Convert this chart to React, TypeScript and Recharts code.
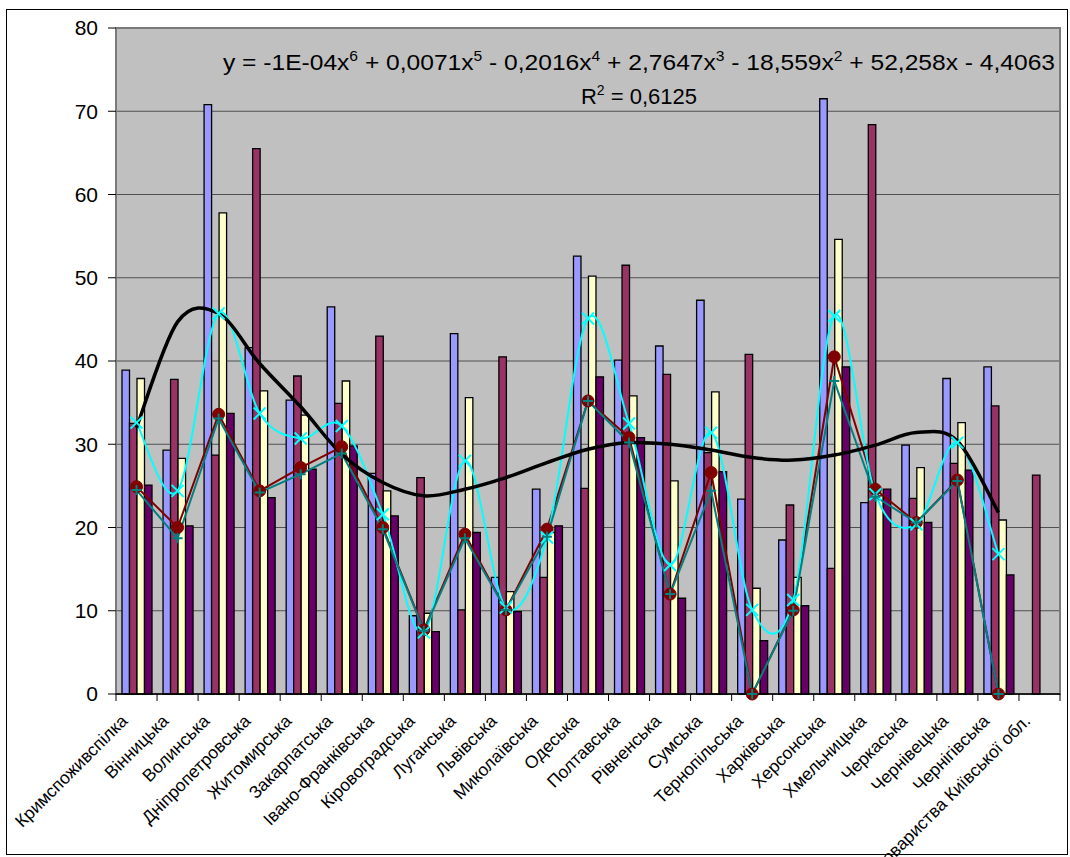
import { Bar, CartesianGrid, ComposedChart, Line, ReferenceArea, XAxis, YAxis } from 'recharts';

// regions of the consumer cooperation (category axis)
const categories = [
    'Кримспоживспілка', 'Вінницька', 'Волинська', 'Дніпропетровська', 'Житомирська', 'Закарпатська',
    'Івано-Франківська', 'Кіровоградська', 'Луганська', 'Львівська', 'Миколаївська', 'Одеська',
    'Полтавська', 'Рівненська', 'Сумська', 'Тернопільська', 'Харківська', 'Херсонська',
    'Хмельницька', 'Черкаська', 'Чернівецька', 'Чернігівська', 'Споживчі товариства Київської обл.',
];

// bar series
const lavender = [38.9, 29.3, 70.8, 41.6, 35.3, 46.5, 26.5, 9.4, 43.3, 14.0, 24.6, 52.6, 40.1, 41.8, 47.3, 23.4, 18.5, 71.5, 23.0, 29.9, 37.9, 39.3, null];
const maroon = [32.5, 37.8, 28.7, 65.5, 38.2, 34.9, 43.0, 26.0, 10.1, 40.5, 14.0, 24.7, 51.5, 38.4, 29.0, 40.8, 22.7, 15.1, 68.4, 23.5, 27.7, 34.6, 26.3];
const yellow = [37.9, 28.3, 57.8, 36.4, 33.5, 37.6, 24.4, 9.7, 35.6, 12.3, 19.4, 50.2, 35.8, 25.6, 36.3, 12.7, 14.0, 54.6, 23.8, 27.2, 32.6, 20.9, null];
const purple = [25.1, 20.2, 33.7, 23.6, 27.0, 29.8, 21.4, 7.5, 19.4, 9.9, 20.2, 38.1, 30.8, 11.5, 26.7, 6.4, 10.6, 39.3, 24.6, 20.6, 26.9, 14.3, null];

// line series
const redLine = [24.9, 20.0, 33.6, 24.4, 27.2, 29.7, 20.0, 7.7, 19.2, 10.1, 19.8, 35.2, 30.8, 12.0, 26.6, 0, 10.1, 40.5, 24.6, 20.6, 25.7, 0, null];
const cyanLine = [32.6, 24.4, 45.7, 33.7, 30.7, 32.2, 21.6, 7.4, 28.0, 10.4, 18.8, 45.1, 32.5, 15.5, 31.4, 10.1, 11.3, 45.4, 24.0, 20.4, 30.2, 16.8, null];
const tealLine = [24.5, 18.7, 33.1, 24.2, 26.4, 28.9, 19.8, 7.6, 18.7, 10.1, 18.9, 35.2, 30.2, 12.0, 24.4, 0, 10.0, 37.6, 23.7, 20.6, 25.6, 0, null];
// polynomial trend line at each category
const trendLine = [32.0, 44.7, 45.7, 39.7, 34.5, 28.8, 25.4, 23.8, 24.6, 26.0, 27.8, 29.4, 30.2, 30.0, 29.3, 28.4, 28.1, 28.7, 29.9, 31.4, 30.4, 21.8, null];

const yTicks = [0, 10, 20, 30, 40, 50, 60, 70, 80];

const equationTerms = [
    ['y = -1E-04x', '6'],
    [' + 0,0071x', '5'],
    [' - 0,2016x', '4'],
    [' + 2,7647x', '3'],
    [' - 18,559x', '2'],
    [' + 52,258x - 4,4063', ''],
];

const data = categories.map((name, i) => ({
    name,
    lavender: lavender[i],
    maroon: maroon[i],
    yellow: yellow[i],
    purple: purple[i],
    red: redLine[i],
    cyan: cyanLine[i],
    teal: tealLine[i],
    trend: trendLine[i],
}));

const FONT = '"Liberation Sans", Arial, sans-serif';
const W = 1070;
const H = 857;
const PLOT_LEFT = 116;
const PLOT_RIGHT = 1060;
const PLOT_TOP = 28;
const PLOT_BOTTOM = 694;
const BAND = (PLOT_RIGHT - PLOT_LEFT) / categories.length;

// Excel-like smoothed line (Catmull-Rom through the points)
const excelSmooth: any = (context: any) => {
    let pts: number[][] = [];
    return {
        areaStart() {},
        areaEnd() {},
        lineStart() {
            pts = [];
        },
        lineEnd() {
            if (!pts.length) return;
            context.moveTo(pts[0][0], pts[0][1]);
            for (let i = 0; i < pts.length - 1; i++) {
                const p0 = pts[Math.max(i - 1, 0)];
                const p1 = pts[i];
                const p2 = pts[i + 1];
                const p3 = pts[Math.min(i + 2, pts.length - 1)];
                context.bezierCurveTo(
                    p1[0] + (p2[0] - p0[0]) / 6, p1[1] + (p2[1] - p0[1]) / 6,
                    p2[0] - (p3[0] - p1[0]) / 6, p2[1] - (p3[1] - p1[1]) / 6,
                    p2[0], p2[1],
                );
            }
        },
        point(x: number, y: number) {
            pts.push([+x, +y]);
        },
    };
};

const CircleDot = (props: any) => {
    const { cx, cy, index } = props;
    if (cx == null || cy == null || props.value == null) return <g key={index} />;
    return <circle key={index} cx={cx} cy={cy} r={6} fill="#800000" stroke="#800000" />;
};

const PlusDot = (props: any) => {
    const { cx, cy, index } = props;
    if (cx == null || cy == null || props.value == null) return <g key={index} />;
    return <path key={index} d={`M${cx - 5},${cy}H${cx + 5}M${cx},${cy - 5}V${cy + 5}`} stroke="#008080" strokeWidth={2} fill="none" />;
};

const CrossDot = (props: any) => {
    const { cx, cy, index } = props;
    if (cx == null || cy == null || props.value == null) return <g key={index} />;
    return (
        <path key={index} d={`M${cx - 6},${cy - 6}L${cx + 6},${cy + 6}M${cx - 6},${cy + 6}L${cx + 6},${cy - 6}`} stroke="#00FFFF" strokeWidth={2} fill="none" />
    );
};

const CategoryTick = (props: any) => {
    const { x, y, payload, index } = props;
    const last = index === categories.length - 1;
    const tx = x - 8;
    const ty = y + 28;
    return (
        <g>
            <line x1={x - BAND / 2} y1={y} x2={x - BAND / 2} y2={y + 7} stroke="#000" />
            {last && <line x1={x + BAND / 2} y1={y} x2={x + BAND / 2} y2={y + 7} stroke="#000" />}
            <text x={tx} y={ty} transform={`rotate(-45, ${tx}, ${ty})`} textAnchor="end" fontFamily={FONT} fontSize={17.5} fill="#000">
                {payload.value}
            </text>
        </g>
    );
};

export default function App() {
    return (
        <div style={{ position: 'absolute', left: 0, top: 0, width: W, height: H, background: '#fff', overflow: 'hidden' }}>
            <div style={{ position: 'absolute', left: 6, top: 9, width: 1060, height: 844, border: '1px solid #000' }} />
            <div style={{ position: 'absolute', left: 0, top: 0 }}>
                <ComposedChart
                    width={W}
                    height={H}
                    data={data}
                    margin={{ top: PLOT_TOP, right: W - PLOT_RIGHT, bottom: 0, left: 16 }}
                    barSize={7.5}
                    barGap={0}
                >
                    <CartesianGrid vertical={false} fill="#C0C0C0" stroke="#505050" strokeOpacity={1} />
                    <ReferenceArea y1={0} y2={80} fill="none" stroke="#7a7a7a" strokeWidth={2} />
                    <XAxis
                        dataKey="name"
                        interval={0}
                        height={H - PLOT_BOTTOM}
                        tickSize={0}
                        tickMargin={0}
                        tickLine={false}
                        axisLine={{ stroke: '#000', strokeWidth: 1.5 }}
                        tick={<CategoryTick />}
                    />
                    <YAxis
                        width={PLOT_LEFT - 16}
                        domain={[0, 80]}
                        ticks={yTicks}
                        interval={0}
                        tickSize={8}
                        tickMargin={10}
                        axisLine={false}
                        tickLine={{ stroke: '#000' }}
                        tick={{ fill: '#000', fontSize: 21, fontFamily: FONT }}
                    />
                    <Bar dataKey="lavender" fill="#9999FF" stroke="#000" strokeWidth={1.3} isAnimationActive={false} />
                    <Bar dataKey="maroon" fill="#993366" stroke="#000" strokeWidth={1.3} isAnimationActive={false} />
                    <Bar dataKey="yellow" fill="#FFFFCC" stroke="#000" strokeWidth={1.3} isAnimationActive={false} />
                    <Bar dataKey="purple" fill="#660066" stroke="#000" strokeWidth={1.3} isAnimationActive={false} />
                    <Line dataKey="red" type="linear" stroke="#800000" strokeWidth={2} dot={CircleDot} activeDot={false} isAnimationActive={false} />
                    <Line dataKey="cyan" type={excelSmooth} stroke="#00FFFF" strokeWidth={2} dot={CrossDot} activeDot={false} isAnimationActive={false} />
                    <Line dataKey="teal" type="linear" stroke="#008080" strokeWidth={2} dot={PlusDot} activeDot={false} isAnimationActive={false} />
                    <Line dataKey="trend" type={excelSmooth} stroke="#000" strokeWidth={3.5} dot={false} activeDot={false} isAnimationActive={false} />
                </ComposedChart>
            </div>
            <svg width={W} height={H} style={{ position: 'absolute', left: 0, top: 0, pointerEvents: 'none' }}>
                <text x={223} y={70} fontFamily={FONT} fontSize={22} fill="#000" textLength={832} lengthAdjust="spacingAndGlyphs" style={{ whiteSpace: 'pre' }}>
                    {equationTerms.map(([term, power], i) => (
                        <tspan key={i}>
                            <tspan dy={i === 0 ? 0 : 9}>{term}</tspan>
                            {power && (
                                <tspan dy={-9} fontSize={14}>
                                    {power}
                                </tspan>
                            )}
                        </tspan>
                    ))}
                </text>
                <text x={639} y={104} fontFamily={FONT} fontSize={22} fill="#000" textAnchor="middle" style={{ whiteSpace: 'pre' }}>
                    R<tspan dy={-9} fontSize={14}>2</tspan>
                    <tspan dy={9}> = 0,6125</tspan>
                </text>
            </svg>
        </div>
    );
}
